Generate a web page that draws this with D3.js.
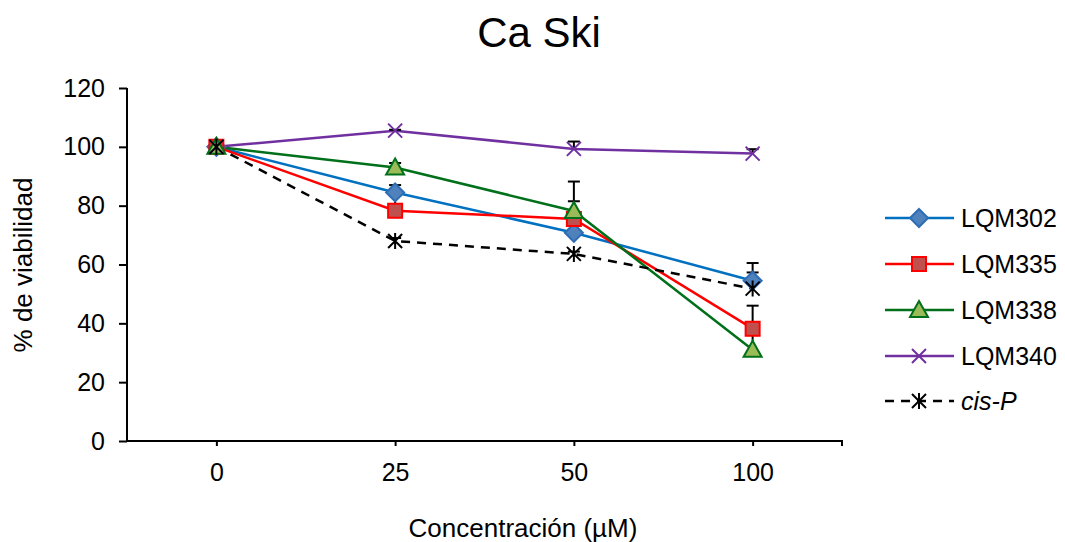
<!DOCTYPE html>
<meta charset="utf-8">
<script src="https://d3js.org/d3.v7.min.js"></script>
<style>
    body { margin: 0; background: #fff; }
    text { font-family: "Liberation Sans", Arial, sans-serif; fill: #000; }
</style>
<div id="chart"></div>

<script>

    // concentrations (categories)
    const doses = ["0", "25", "50", "100"];
    const yTicks = [0, 20, 40, 60, 80, 100, 120];

    // % viability per compound
    const lqm302 = [100, 84.5, 70.8, 54.5];
    const lqm335 = [100, 78.3, 75.5, 38.2];
    const lqm338 = [100, 93, 78.2, 31];
    const lqm340 = [100, 105.5, 99.3, 97.7];
    const cisP = [100, 68, 63.6, 51.8];

    // positive error bars
    const err302 = [0, 2.5, 3, 6];
    const err335 = [0, 5, 6, 7.8];
    const err338 = [0, 1.5, 10, 5];
    const err340 = [0, 0.3, 2.5, 1.5];
    const errCis = [0, 1, 0.8, 5.5];

    const seriesNames = ["LQM302", "LQM335", "LQM338", "LQM340", "cis-P"];

    const series = [
        {name: seriesNames[0], values: lqm302, err: err302, line: "#0070C0", fill: "#4F81BD", stroke: "#2E6DB4", symbol: "diamond"},
        {name: seriesNames[1], values: lqm335, err: err335, line: "#FF0000", fill: "#C0504D", stroke: "#FF0000", symbol: "square"},
        {name: seriesNames[2], values: lqm338, err: err338, line: "#00701A", fill: "#9BBB59", stroke: "#00701A", symbol: "triangle"},
        {name: seriesNames[3], values: lqm340, err: err340, line: "#7030A0", fill: "none", stroke: "#7030A0", symbol: "x"},
        {name: seriesNames[4], values: cisP, err: errCis, line: "#000000", fill: "none", stroke: "#000000", symbol: "star", dash: "9,7"}
    ];

    const W = 1065, H = 542;
    const plot = {left: 127, right: 842, top: 88, bottom: 441};

    const svg = d3.select("#chart")
        .append("svg")
        .attr("width", W)
        .attr("height", H);

    const x = d3.scalePoint()
        .domain(doses)
        .range([plot.left, plot.right])
        .padding(0.5);

    const y = d3.scaleLinear()
        .domain([0, 120])
        .range([plot.bottom, plot.top]);

    // title
    svg.append("text")
        .attr("x", 539)
        .attr("y", 47)
        .attr("text-anchor", "middle")
        .style("font-size", "42px")
        .text("Ca Ski");

    // y axis
    const yAxis = svg.append("g")
        .attr("transform", `translate(${plot.left},0)`)
        .call(d3.axisLeft(y).tickValues(yTicks).tickSize(8).tickPadding(14));
    yAxis.select(".domain").attr("stroke", "#000").attr("stroke-width", 2)
        .attr("d", `M0,${plot.top}V${plot.bottom}`);
    yAxis.selectAll(".tick line").attr("stroke", "#000").attr("stroke-width", 2);
    yAxis.selectAll(".tick text")
        .style("font-size", "25px")
        .attr("font-family", null);

    // x axis
    const xAxis = svg.append("g")
        .attr("transform", `translate(0,${plot.bottom})`)
        .call(d3.axisBottom(x).tickSize(5).tickPadding(17));
    xAxis.select(".domain").attr("stroke", "#000").attr("stroke-width", 2)
        .attr("d", `M${plot.left},0H${plot.right}V5`);
    xAxis.selectAll(".tick line").attr("stroke", "#000").attr("stroke-width", 2);
    xAxis.selectAll(".tick text")
        .style("font-size", "25px")
        .attr("font-family", null);

    // axis titles
    svg.append("text")
        .attr("x", 523)
        .attr("y", 537)
        .attr("text-anchor", "middle")
        .style("font-size", "26px")
        .text("Concentración (µM)");

    svg.append("text")
        .attr("transform", "translate(32,265) rotate(-90)")
        .attr("text-anchor", "middle")
        .style("font-size", "26px")
        .text("% de viabilidad");

    // marker paths
    function markerPath(symbol) {
        if (symbol === "diamond") return "M0,-9L9,0L0,9L-9,0Z";
        if (symbol === "square") return "M-7,-7H7V7H-7Z";
        if (symbol === "triangle") return "M0,-9L9,7H-9Z";
        if (symbol === "x") return "M-7,-7L7,7M-7,7L7,-7";
        return "M-7,-7L7,7M-7,7L7,-7M0,-8V8";
    }

    function drawMarker(g, s, cx, cy) {
        g.append("path")
            .attr("transform", `translate(${cx},${cy})`)
            .attr("d", markerPath(s.symbol))
            .attr("fill", s.fill)
            .attr("stroke", s.stroke)
            .attr("stroke-width", 2);
    }

    const line = d3.line()
        .x((d, i) => x(doses[i]))
        .y(d => y(d));

    // lines
    const lines = svg.append("g");
    series.forEach(s => {
        lines.append("path")
            .datum(s.values)
            .attr("d", line)
            .attr("fill", "none")
            .attr("stroke", s.line)
            .attr("stroke-width", 2.5)
            .attr("stroke-dasharray", s.dash || null);
    });

    // error bars (upper only)
    const errs = svg.append("g").attr("stroke", "#000").attr("stroke-width", 2);
    series.forEach(s => {
        s.values.forEach((v, i) => {
            if (!s.err[i]) return;
            const cx = x(doses[i]);
            const y0 = y(v), y1 = y(v + s.err[i]);
            errs.append("line").attr("x1", cx).attr("x2", cx).attr("y1", y0).attr("y2", y1);
            errs.append("line").attr("x1", cx - 6).attr("x2", cx + 6).attr("y1", y1).attr("y2", y1);
        });
    });

    // markers
    const marks = svg.append("g");
    series.forEach(s => {
        s.values.forEach((v, i) => drawMarker(marks, s, x(doses[i]), y(v)));
    });

    // legend
    const legend = svg.append("g");
    const legendY = [218, 264, 310, 356, 401];
    series.forEach((s, i) => {
        const ly = legendY[i];
        legend.append("line")
            .attr("x1", 885).attr("x2", 954)
            .attr("y1", ly).attr("y2", ly)
            .attr("stroke", s.line)
            .attr("stroke-width", 2.5)
            .attr("stroke-dasharray", s.dash || null);
        drawMarker(legend, s, 919, ly);
        legend.append("text")
            .attr("x", 961)
            .attr("y", ly + 9)
            .style("font-size", "25px")
            .style("font-style", s.name === "cis-P" ? "italic" : "normal")
            .text(s.name);
    });

</script>
